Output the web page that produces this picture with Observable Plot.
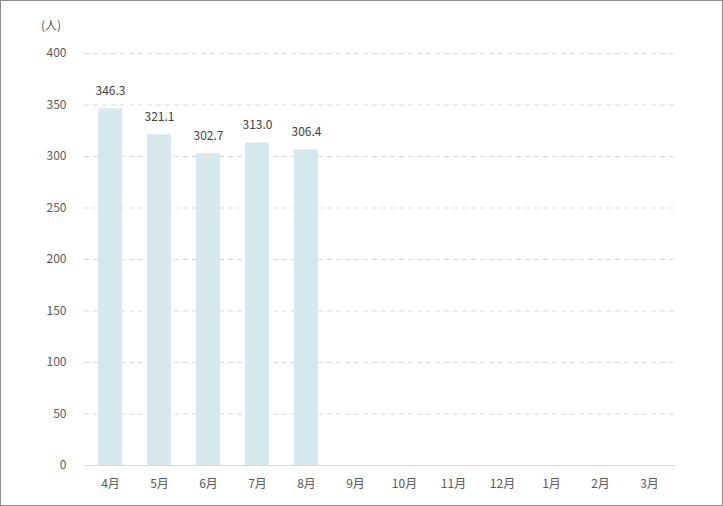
<!DOCTYPE html>
<html><head><meta charset="utf-8">
<script src="https://cdn.jsdelivr.net/npm/d3@7"></script>
<script src="https://cdn.jsdelivr.net/npm/@observablehq/plot@0.6"></script>
<style>
html,body{margin:0;padding:0;background:#fff;}
#wrap{position:relative;width:723px;height:506px;box-sizing:border-box;border:1px solid #8c8c8c;font-family:"Noto Sans CJK JP","Noto Sans",sans-serif;}
#unit{position:absolute;left:40px;top:15px;font-size:12px;color:#595959;}
#chart svg{display:block;}
</style></head>
<body>
<div id="wrap"><div id="unit">(人)</div><div id="chart"></div></div>
<script>
const months = ["4月","5月","6月","7月","8月","9月","10月","11月","12月","1月","2月","3月"];
const values = [346.3, 321.1, 302.7, 313.0, 306.4, null, null, null, null, null, null, null];
const yTicks = [0, 50, 100, 150, 200, 250, 300, 350, 400];

const data = months.map((m, i) => ({month: m, value: values[i]}));
const bars = data.filter(d => d.value != null);

const chart = Plot.plot({
  width: 721,
  height: 504,
  marginLeft: 83,
  marginRight: 46,
  marginTop: 52,
  marginBottom: 40,
  style: {fontFamily: '"Noto Sans CJK JP","Noto Sans",sans-serif', fontSize: "12px", color: "#595959", background: "#fff"},
  x: {domain: months, paddingInner: 0.51, paddingOuter: 0.255, label: null, tickSize: 0, tickPadding: 14},
  y: {domain: [0, 400], ticks: yTicks, label: null, tickSize: 0, tickPadding: 18},
  marks: [
    Plot.ruleY(yTicks.filter(t => t > 0), {stroke: "#d9d9d9", strokeDasharray: "5,4", strokeWidth: 1}),
    Plot.barY(bars, {x: "month", y: "value", fill: "#d5e9ec"}),
    Plot.ruleY([0], {stroke: "#d9d9d9", strokeWidth: 1}),
    Plot.text(bars, {x: "month", y: "value", text: d => d.value.toFixed(1), dy: -18, fill: "#404040", fontSize: 12})
  ]
});
document.getElementById("chart").appendChild(chart);
</script>
</body></html>
